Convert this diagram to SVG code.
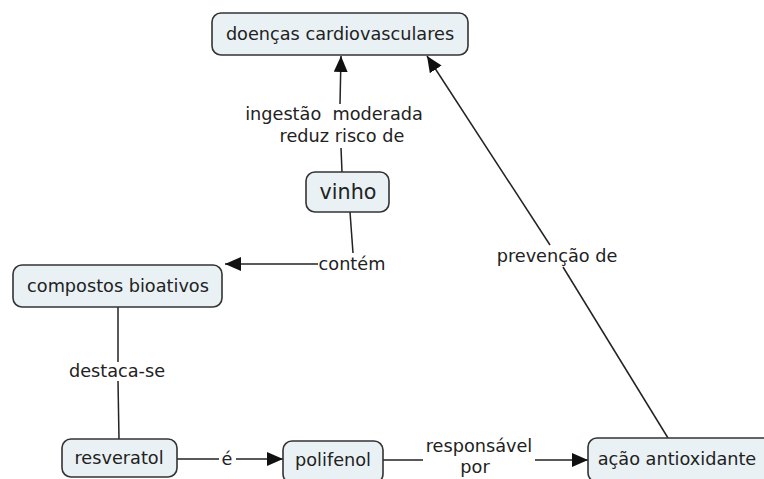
<svg xmlns="http://www.w3.org/2000/svg" width="764" height="479" viewBox="0 0 764 479">
<style>
.node rect{fill:#e9f1f4;stroke:#333;stroke-width:1.6}
text{font-family:"DejaVu Sans",Verdana,sans-serif;font-size:17.7px;fill:#222;text-anchor:middle}
.conn path{fill:none;stroke:#222;stroke-width:1.5}
.arr{marker-end:url(#ah)}
</style>
<defs>
<marker id="ah" markerUnits="userSpaceOnUse" markerWidth="17" markerHeight="14" refX="16" refY="7" orient="auto" viewBox="0 0 17 14">
<path d="M0,0 L16,7 L0,14 z" fill="#111"/>
</marker>
</defs>
<rect width="764" height="479" fill="#fff"/>
<g class="conn" id="connectors">
<path d="M342,172 L341,148"/>
<path class="arr" d="M340,104 L341,56"/>
<path d="M350,212 L353,253"/>
<path class="arr" d="M318,264 L225,264"/>
<path d="M118,307 L118,362"/>
<path d="M118,381 L119,439"/>
<path d="M177,459 L219,459"/>
<path class="arr" d="M236,459 L283,459"/>
<path d="M383,460 L423,460"/>
<path class="arr" d="M535,460 L588,460"/>
<path d="M668,438 L563,267"/>
<path class="arr" d="M550,245 L427,56"/>
</g>
<g id="labels">
<text x="334" y="120" style="white-space:pre">ingestão  moderada</text>
<text x="342" y="142">reduz risco de</text>
<text x="352" y="270">contém</text>
<text x="117" y="377">destaca-se</text>
<text x="227" y="465">é</text>
<text x="479" y="452">responsável</text>
<text x="475" y="473">por</text>
<text x="557" y="262">prevenção de</text>
</g>
<g class="node" id="n-doencas"><rect x="212" y="13" width="256" height="42" rx="9"/><text x="340" y="40">doenças cardiovasculares</text></g>
<g class="node" id="n-vinho"><rect x="306" y="172" width="83" height="40" rx="9"/><text x="348" y="199" style="font-size:20.7px">vinho</text></g>
<g class="node" id="n-compostos"><rect x="13" y="265" width="209" height="42" rx="9"/><text x="118" y="292">compostos bioativos</text></g>
<g class="node" id="n-resveratol"><rect x="62" y="439" width="115" height="38" rx="9"/><text x="119" y="464">resveratol</text></g>
<g class="node" id="n-polifenol"><rect x="283" y="441" width="100" height="42" rx="9"/><text x="333" y="466">polifenol</text></g>
<g class="node" id="n-acao"><rect x="588" y="438" width="190" height="44" rx="9"/><text x="677" y="465">ação antioxidante</text></g>
</svg>
